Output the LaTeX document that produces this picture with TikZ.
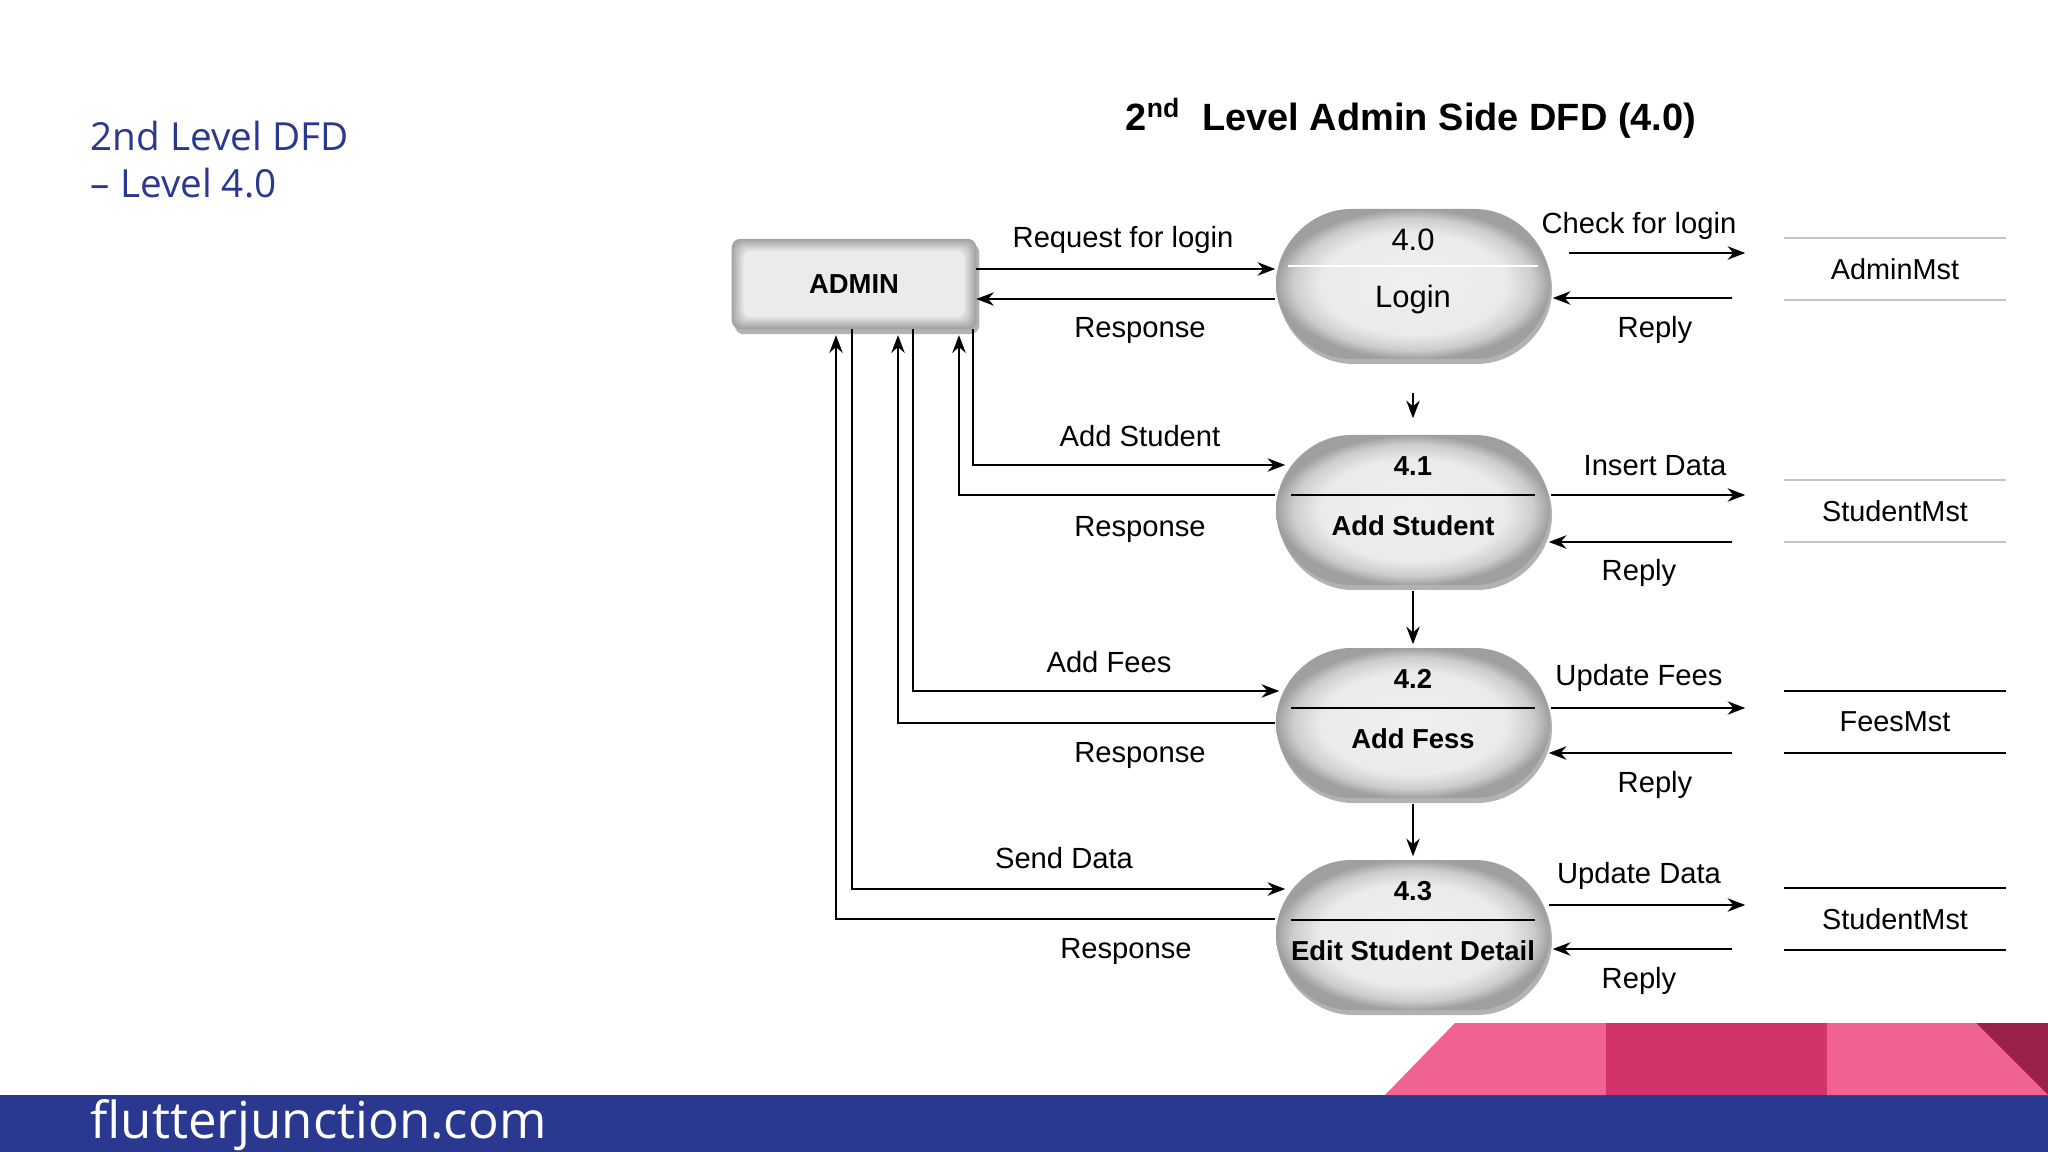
\documentclass[tikz,border=0pt]{standalone}
\usepackage{fontspec}
\setmainfont{Liberation Sans}
\newfontfamily\slidefont{Open Sans}
\usetikzlibrary{arrows.meta,calc}

\definecolor{slideblue}{RGB}{42,57,143}
\definecolor{pinklight}{RGB}{239,98,146}
\definecolor{pinkmid}{RGB}{209,51,106}
\definecolor{pinkdark}{RGB}{155,33,74}

\pgfdeclarelayer{background}
\pgfsetlayers{background,main}

\pgfdeclareradialshading{bevel}{\pgfpoint{0bp}{0bp}}{%
  color(0bp)=(gray!12); color(17bp)=(gray!16); color(22bp)=(gray!40);
  color(25bp)=(gray!75); color(50bp)=(gray!75)}

% barrel outline of a process, in pixels round its centre
\newcommand{\barrelpath}{(-62,-75) -- (62,-75)
  .. controls (102,-75) and (137,-40) .. (137,0)
  .. controls (137,40) and (102,75) .. (62,75) -- (-62,75)
  .. controls (-102,75) and (-137,40) .. (-137,0)
  .. controls (-137,-40) and (-102,-75) .. (-62,-75) -- cycle}

\tikzset{
  flow/.style={line width=0.6pt, -{Stealth[length=5pt,width=3.8pt]}},
  lbl/.style={inner sep=0pt, font=\fontsize{8.3}{10}\selectfont},
  proc/.style={minimum width=2.74cm, minimum height=1.5cm, inner sep=0pt},
  ptext/.style={inner sep=0pt, font=\bfseries\fontsize{7.8}{9}\selectfont},
  store/.style={minimum width=2.2cm, minimum height=0.6cm, inner sep=0pt, font=\fontsize{8.2}{10}\selectfont},
}

\begin{document}
\begin{tikzpicture}[x=0.01cm, y=-0.01cm]
    \useasboundingbox (0,0) rectangle (2048,1152);
    \begin{pgfonlayer}{background}
        \fill[white] (0,0) rectangle (2048,1152);
    \end{pgfonlayer}

    % slide heading and footer
    \node[anchor=base west, inner sep=0pt, text=slideblue, font=\slidefont\fontsize{11}{13}\selectfont] (head1) at (90,151) {2nd Level DFD};
    \node[anchor=base west, inner sep=0pt, text=slideblue, font=\slidefont\fontsize{11}{13}\selectfont] (head2) at (90,198) {– Level 4.0};
    \fill[slideblue] (0,1095) rectangle (2048,1152);
    \fill[pinklight] (1385,1095) -- (1455,1023) -- (1606,1023) -- (1606,1095) -- cycle;
    \fill[pinkmid] (1606,1023) rectangle (1827,1095);
    \fill[pinklight] (1827,1023) -- (1976,1023) -- (2048,1095) -- (1827,1095) -- cycle;
    \fill[pinkdark] (1976,1023) -- (2048,1023) -- (2048,1095) -- cycle;
    \node[anchor=west, inner sep=0pt, text=white, font=\slidefont\fontsize{14.5}{17}\selectfont] (site) at (90,1125) {flutterjunction.com};

    % DFD
    \node[anchor=base, font=\bfseries\fontsize{10.8}{13}\selectfont] (title) at (1411,131) {2\textsuperscript{nd}\ \ Level Admin Side DFD (4.0)};

    \node[minimum width=2.43cm, minimum height=0.89cm, font=\bfseries\fontsize{7.8}{9}\selectfont] (admin) at (854,284) {ADMIN};
    \node[proc] (login) at (1413,284) {};
    \node[proc] (p41) at (1413,510) {};
    \node[proc] (p42) at (1413,723) {};
    \node[proc] (p43) at (1413,935) {};

    \node[lbl, font=\fontsize{8.8}{10}\selectfont] (n40) at ($(login)+(0,-44)$) {4.0};
    \node[lbl, font=\fontsize{8.8}{10}\selectfont] (t40) at ($(login)+(0,16)$) {Login};
    \node[ptext] (n41) at ($(p41)+(0,-44)$) {4.1};
    \node[ptext] (t41) at ($(p41)+(0,16)$) {Add Student};
    \node[ptext] (n42) at ($(p42)+(0,-44)$) {4.2};
    \node[ptext] (t42) at ($(p42)+(0,16)$) {Add Fess};
    \node[ptext] (n43) at ($(p43)+(0,-44)$) {4.3};
    \node[ptext] (t43) at ($(p43)+(0,16)$) {Edit Student Detail};

    \node[store] (amst) at (1895,269) {AdminMst};
    \node[store] (smst) at (1895,511) {StudentMst};
    \node[store] (fmst) at (1895,722) {FeesMst};
    \node[store] (smst2) at (1895,919) {StudentMst};

    \begin{pgfonlayer}{background}
        \fill[black, opacity=.3, rounded corners=2.5pt] ($(admin.north west)+(3,5)$) rectangle ($(admin.south east)+(3,5)$);
        \foreach \k [evaluate=\k as \shadeval using int(72-7*\k), evaluate=\k as \d using 1.5*\k] in {0,...,8}
            \fill[gray!\shadeval, rounded corners=2.5pt] ($(admin.north west)+(\d,\d)$) rectangle ($(admin.south east)+(-\d,-\d)$);
        \foreach \p in {login,p41,p42,p43} {
            \begin{scope}[shift={(\p.center)}]
                \fill[black, opacity=.3, shift={(2,5)}] \barrelpath;
                \shade[shading=bevel] \barrelpath;
            \end{scope}
        }
    \end{pgfonlayer}

    % dividers inside the processes
    \draw[white, line width=0.6pt] ($(login)+(-125,-18)$) -- ($(login)+(125,-18)$);
    \foreach \p in {p41,p42,p43}
        \draw[line width=0.6pt] ($(\p)+(-122,-15)$) -- ($(\p)+(122,-15)$);

    % data stores
    \foreach \s/\col in {amst/gray!45, smst/gray!45, fmst/black, smst2/black}
        \draw[\col, line width=0.6pt] (\s.north west) -- (\s.north east) (\s.south west) -- (\s.south east);

    % admin side flows
    \draw[flow] ($(admin.east)+(0,-15)$) -- ($(login.west)+(0,-15)$);
    \draw[flow] ($(login.west)+(0,15)$) -- ($(admin.east)+(0,15)$);
    \draw[flow] ($(admin.south)+(119,0)$) |- ($(p41.west)+(10,-45)$);
    \draw[flow] ($(p41.west)+(0,-15)$) -| ($(admin.south)+(105,6)$);
    \draw[flow] ($(admin.south)+(59,0)$) |- ($(p42.west)+(4,-32)$);
    \draw[flow] (p42.west) -| ($(admin.south)+(44,6)$);
    \draw[flow] ($(admin.south)+(-2,0)$) |- ($(p43.west)+(10,-46)$);
    \draw[flow] ($(p43.west)+(0,-16)$) -| ($(admin.south)+(-18,6)$);

    % process to process
    \draw[flow] ($(login.south)+(0,33)$) -- ($(p41.north)+(0,-16)$);
    \draw[flow] ($(p41.south)+(0,5)$) -- ($(p42.north)+(0,-3)$);
    \draw[flow] ($(p42.south)+(0,5)$) -- ($(p43.north)+(0,-3)$);

    % store side flows
    \draw[flow] ($(login.east)+(18,-31)$) -- ($(login.east -| amst.west)+(-39,-31)$);
    \draw[flow] ($(login.east -| amst.west)+(-52,14)$) -- ($(login.east)+(2,14)$);
    \draw[flow] ($(p41.east)+(0,-15)$) -- ($(p41.east -| smst.west)+(-39,-15)$);
    \draw[flow] ($(p41.east -| smst.west)+(-52,32)$) -- ($(p41.east)+(-2,32)$);
    \draw[flow] ($(p42.east)+(0,-15)$) -- ($(p42.east -| fmst.west)+(-39,-15)$);
    \draw[flow] ($(p42.east -| fmst.west)+(-52,30)$) -- ($(p42.east)+(-2,30)$);
    \draw[flow] ($(p43.east)+(-2,-30)$) -- ($(p43.east -| smst2.west)+(-39,-30)$);
    \draw[flow] ($(p43.east -| smst2.west)+(-52,14)$) -- ($(p43.east)+(2,14)$);

    % flow labels
    \node[lbl] (lReq) at (1123,240) {Request for login};
    \node[lbl] (lRes0) at (1140,330) {Response};
    \node[lbl] (lChk) at (1639,226) {Check for login};
    \node[lbl] (lRep0) at (1655,330) {Reply};
    \node[lbl] (lAddS) at (1140,436) {Add Student};
    \node[lbl] (lRes1) at (1140,529) {Response};
    \node[lbl] (lIns) at (1655,466) {Insert Data};
    \node[lbl] (lRep1) at (1639,573) {Reply};
    \node[lbl] (lAddF) at (1109,662) {Add Fees};
    \node[lbl] (lRes2) at (1140,755) {Response};
    \node[lbl] (lUpF) at (1639,678) {Update Fees};
    \node[lbl] (lRep2) at (1655,785) {Reply};
    \node[lbl] (lSend) at (1064,858) {Send Data};
    \node[lbl] (lRes3) at (1126,951) {Response};
    \node[lbl] (lUpD) at (1639,876) {Update Data};
    \node[lbl] (lRep3) at (1639,981) {Reply};
\end{tikzpicture}
\end{document}
